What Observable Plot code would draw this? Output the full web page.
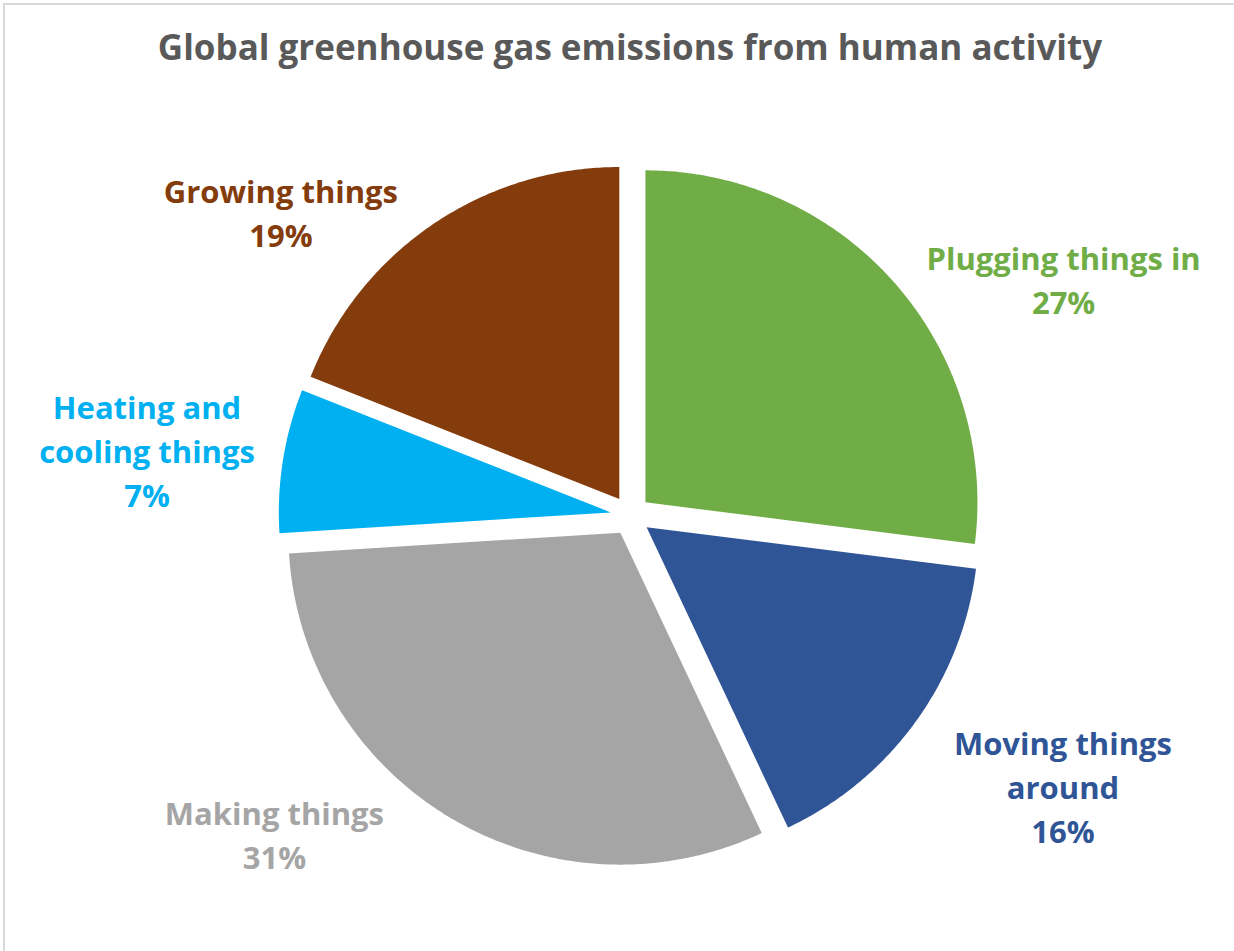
<!DOCTYPE html>
<html><head><meta charset="utf-8">
<script src="https://cdn.jsdelivr.net/npm/d3@7"></script>
<script src="https://cdn.jsdelivr.net/npm/@observablehq/plot@0.6"></script>
<style>
html,body{margin:0;padding:0;background:#fff;overflow:hidden;width:1234px;height:951px;}
#frame{position:absolute;left:3px;top:3px;width:1270px;height:990px;border:2px solid #d9d9d9;box-sizing:border-box;pointer-events:none;}
#wrap{position:absolute;left:0;top:0;width:1234px;}
#title{height:100px;box-sizing:border-box;padding-top:27px;padding-left:26px;text-align:center;font-family:"Open Sans",sans-serif;font-weight:700;font-size:35px;line-height:40px;color:#595959;white-space:nowrap;}
</style></head>
<body>
<div id="frame"></div>
<div id="wrap"><div id="title">Global greenhouse gas emissions from human activity</div><div id="chart"></div></div>
<script>
// ---- data ----
const categories = ["Plugging things in", "Moving things around", "Making things", "Heating and cooling things", "Growing things"];
const labelText = ["Plugging things in", "Moving things\naround", "Making things", "Heating and\ncooling things", "Growing things"];
const values = [27, 16, 31, 7, 19];
const colors = ["#70AD47", "#2F5597", "#A5A5A5", "#00B0F0", "#843C0C"];

// ---- layout ----
const W = 1234, H = 851;
const cx = 630, cy = 415, R = 332;     // pie centre & radius in px
const explode = 0.06;                  // explode offset, fraction of radius
const labelRadius = 1.45;              // base label ring, fraction of radius
const labelNudge = {                   // px nudges from the label ring
  "Plugging things in": [72, 117],
  "Moving things around": [43, 45],
  "Making things": [-111, -61],
  "Heating and cooling things": [-8, 67],
  "Growing things": [-79, 130]
};
const fontSize = 31;
const lineGap = 44;

const total = d3.sum(values);
let cum = 0;
const slices = categories.map((name, i) => {
  const a0 = 2 * Math.PI * cum / total;
  cum += values[i];
  const a1 = 2 * Math.PI * cum / total;
  return {name, value: values[i], a0, a1, mid: (a0 + a1) / 2, text: labelText[i] + "\n" + values[i] + "%"};
});

const pts = [];
for (const s of slices) {
  const ox = explode * Math.sin(s.mid), oy = -explode * Math.cos(s.mid);
  pts.push({name: s.name, x: ox, y: oy});
  const n = Math.max(2, Math.ceil((s.a1 - s.a0) / (Math.PI / 360)));
  for (let k = 0; k <= n; k++) {
    const t = s.a0 + (s.a1 - s.a0) * k / n;
    pts.push({name: s.name, x: ox + Math.sin(t), y: oy - Math.cos(t)});
  }
  pts.push({name: s.name, x: ox, y: oy});
}

const labels = slices.map(s => ({name: s.name, text: s.text,
  x: labelRadius * Math.sin(s.mid), y: -labelRadius * Math.cos(s.mid)}));

const marks = [
  Plot.line(pts, {x: "x", y: "y", z: "name", fill: "name", stroke: "none", curve: "linear"})
];
for (const l of labels) {
  const [dx, dy] = labelNudge[l.name];
  marks.push(Plot.text([l], {x: "x", y: "y", text: "text", fill: "name", dx, dy,
    textAnchor: "middle", lineAnchor: "bottom", lineHeight: lineGap / fontSize,
    fontSize, fontWeight: 700, fontFamily: "'Open Sans', sans-serif"}));
}

const chart = Plot.plot({
  width: W, height: H,
  margin: 0,
  style: {background: "transparent", overflow: "visible"},
  x: {type: "linear", domain: [-cx / R, (W - cx) / R], range: [0, W], axis: null},
  y: {type: "linear", domain: [-cy / R, (H - cy) / R], range: [0, H], axis: null},
  color: {domain: categories, range: colors},
  marks
});
document.getElementById("chart").appendChild(chart);
</script>
</body></html>
